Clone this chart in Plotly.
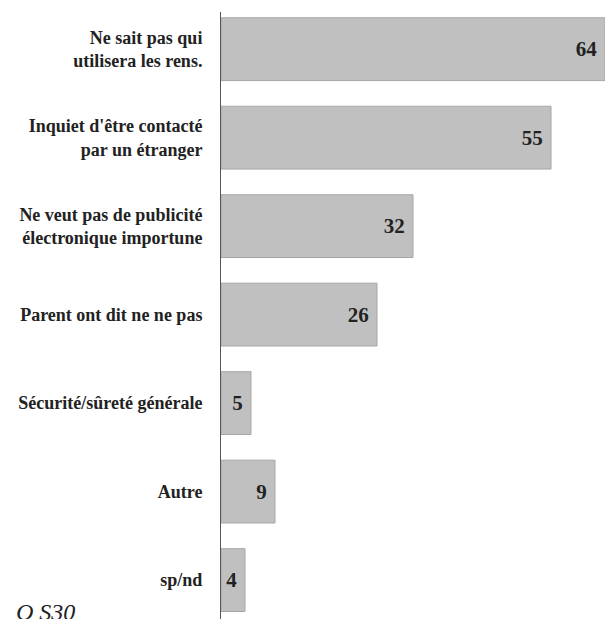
import plotly.graph_objects as go

categories = [
    "Ne sait pas qui<br>utilisera les rens.",
    "Inquiet d'être contacté<br>par un étranger",
    "Ne veut pas de publicité<br>électronique importune",
    "Parent ont dit ne ne pas",
    "Sécurité/sûreté générale",
    "Autre",
    "sp/nd",
]
values = [64, 55, 32, 26, 5, 9, 4]
value_labels = [str(v) for v in values]
footnote = "Q S30"

fig = go.Figure(
    go.Bar(
        x=values,
        y=categories,
        orientation="h",
        marker=dict(color="#c0c0c0", line=dict(color="#a6a6a6", width=1)),
        text=value_labels,
        texttemplate="%{text}\u00a0",
        textposition="inside",
        insidetextanchor="end",
        constraintext="none",
        textfont=dict(family="Liberation Serif", size=21, color="#222222", weight="bold"),
        cliponaxis=False,
        hoverinfo="skip",
    )
)

fig.update_layout(
    width=605,
    height=619,
    margin=dict(l=221, r=0, t=12, b=0),
    paper_bgcolor="white",
    plot_bgcolor="white",
    bargap=0.29,
    showlegend=False,
    xaxis=dict(range=[0, 64], visible=False, showgrid=False, zeroline=False),
    yaxis=dict(
        range=[6.44, -0.42],
        showline=True,
        linecolor="#555555",
        linewidth=1,
        showgrid=False,
        zeroline=False,
        ticks="",
        ticklabelstandoff=14,
        tickfont=dict(family="Liberation Serif", size=18, color="#222222", weight="bold"),
    ),
    annotations=[
        dict(
            text=footnote,
            xref="paper",
            yref="paper",
            x=(14 - 221) / 384,
            y=(619 - 597) / 607,
            xanchor="left",
            yanchor="top",
            showarrow=False,
            font=dict(family="Liberation Serif", size=24, color="#222222", style="italic"),
        )
    ],
)

fig.write_html(
    "out.html",
    config={"displayModeBar": False},
    post_script="document.body.style.margin='0';document.body.style.overflow='hidden';",
)
